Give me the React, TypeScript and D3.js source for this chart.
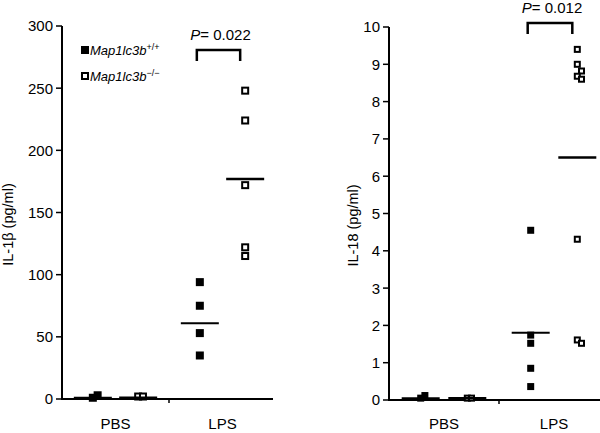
import React from 'react';
import * as d3 from 'd3';

// categories and genotypes
const categories = ['PBS', 'LPS'];
const genotypes = ['wt', 'ko'];

// IL-1beta (pg/ml), left panel
const il1bWt = [[1, 3], [94, 75, 53, 35]];
const il1bKo = [[2, 2], [248, 224, 172, 122, 115]];
const il1bMeanWt = [1, 61];
const il1bMeanKo = [1, 177];
const il1bTicks = [0, 50, 100, 150, 200, 250, 300];

// IL-18 (pg/ml), right panel
const il18Wt = [[0.05, 0.12], [4.55, 1.74, 1.52, 0.85, 0.36]];
const il18Ko = [[0.05, 0.05], [9.4, 9.0, 8.82, 8.68, 8.6, 4.31, 1.61, 1.52]];
const il18MeanWt = [0.05, 1.8];
const il18MeanKo = [0.05, 6.5];
const il18Ticks = [0, 1, 2, 3, 4, 5, 6, 7, 8, 9, 10];

const pValues = ['0.022', '0.012'];
const legendLabels = [['Map1lc3b', '+/+'], ['Map1lc3b', '\u2212/\u2212']];

const FONT = 'Liberation Sans, Arial, sans-serif';

type PanelProps = {
  x0: number;
  x1: number;
  axisEnd: number;
  y0: number;
  y1: number;
  max: number;
  ticks: number[];
  wt: number[][];
  ko: number[][];
  meanWt: number[];
  meanKo: number[];
  label: React.ReactNode;
  labelX: number;
  pText: string;
  pY: number;
  bracketTop: number;
  size: number;
};

// small dodge so overlapping squares sit side by side
function dodge(vals: number[], y: (v: number) => number, size: number) {
  const placed: { py: number; dx: number }[] = [];
  return vals.map((v) => {
    const py = y(v);
    let dx = 0;
    for (const cand of [0, size * 0.6, -size * 0.6]) {
      const hit = placed.some((p) => p.dx === cand && Math.abs(p.py - py) < size);
      if (!hit) { dx = cand; break; }
    }
    placed.push({ py, dx });
    return { v, py, dx };
  });
}

const Panel = (props: PanelProps) => {
  const y = d3.scaleLinear().domain([0, props.max]).range([props.y0, props.y1]);
  const xBand = d3.scaleBand().domain(categories).range([props.x0, props.x1]);
  const xInner = d3.scalePoint().domain(genotypes).range([0, xBand.bandwidth()]).padding(0.68);
  const s = props.size;

  const koLps = xBand('LPS')! + xInner('ko')!;
  const wtLps = xBand('LPS')! + xInner('wt')!;

  return (
    <g fontFamily={FONT}>
      {/* y axis */}
      <line x1={props.x0} x2={props.x0} y1={props.y0 + 1} y2={props.y1} stroke="#000" strokeWidth={2} />
      {props.ticks.map((t) => (
        <g key={t}>
          <line x1={props.x0 - 6} x2={props.x0} y1={y(t)} y2={y(t)} stroke="#000" strokeWidth={1.5} />
          <text x={props.x0 - 9} y={y(t)} dy="0.36em" textAnchor="end" fontSize={15}>{t}</text>
        </g>
      ))}
      {/* x axis */}
      <line x1={props.x0} x2={props.axisEnd} y1={props.y0} y2={props.y0} stroke="#000" strokeWidth={2} />
      <line x1={xBand('LPS')!} x2={xBand('LPS')!} y1={props.y0} y2={props.y0 + 4} stroke="#000" strokeWidth={1.5} />
      {categories.map((c) => (
        <text key={c} x={xBand(c)! + xBand.bandwidth() / 2} y={429} textAnchor="middle" fontSize={15}>{c}</text>
      ))}
      <text transform={`translate(${props.labelX},${(props.y0 + props.y1) / 2 + 12}) rotate(-90)`} textAnchor="middle" dy="0.35em" fontSize={14.5}>
        {props.label}
      </text>

      {/* points */}
      {categories.map((c, ci) => {
        const cxW = xBand(c)! + xInner('wt')!;
        const cxK = xBand(c)! + xInner('ko')!;
        return (
          <g key={c}>
            {dodge(props.wt[ci], y, s).map((p, i) => (
              <rect key={'w' + i} x={cxW + p.dx - s / 2} y={p.py - s / 2} width={s} height={s} fill="#000" />
            ))}
            {dodge(props.ko[ci], y, s).map((p, i) => (
              <rect key={'k' + i} x={cxK + p.dx - s / 2 + 1} y={p.py - s / 2 + 1} width={s - 2} height={s - 2} fill="#fff" stroke="#000" strokeWidth={2} />
            ))}
            <line x1={cxW - 19} x2={cxW + 19} y1={y(props.meanWt[ci])} y2={y(props.meanWt[ci])} stroke="#000" strokeWidth={2} />
            <line x1={cxK - 19} x2={cxK + 19} y1={y(props.meanKo[ci])} y2={y(props.meanKo[ci])} stroke="#000" strokeWidth={2.5} />
          </g>
        );
      })}

      {/* significance bracket */}
      <path
        d={`M${wtLps - 3},${props.bracketTop + 11} V${props.bracketTop} H${koLps - 5} V${props.bracketTop + 11}`}
        fill="none"
        stroke="#000"
        strokeWidth={2.5}
      />
      <text x={(wtLps + koLps) / 2 - 2} y={props.pY} textAnchor="middle" fontSize={15}>
        <tspan fontStyle="italic">P</tspan>= {props.pText}
      </text>
    </g>
  );
};

const App = () => {
  return (
    <svg width={600} height={433} style={{ position: 'absolute', left: 0, top: 0, background: '#fff' }}>
      <rect width={600} height={433} fill="#fff" />
      <Panel
        x0={62} x1={276} axisEnd={273} y0={399} y1={26} max={300} ticks={il1bTicks}
        wt={il1bWt} ko={il1bKo} meanWt={il1bMeanWt} meanKo={il1bMeanKo}
        label={<>IL-1β (pg/ml)</>} labelX={8}
        pText={pValues[0]} pY={40} bracketTop={50} size={8}
      />
      <Panel
        x0={389} x1={609} axisEnd={600} y0={400} y1={27} max={10} ticks={il18Ticks}
        wt={il18Wt} ko={il18Ko} meanWt={il18MeanWt} meanKo={il18MeanKo}
        label={<>IL-18 (pg/ml)</>} labelX={353}
        pText={pValues[1]} pY={13} bracketTop={23} size={7}
      />
      {/* legend */}
      {legendLabels.map((l, i) => (
        <g key={i} fontFamily={FONT}>
          {i === 0 ? (
            <rect x={81} y={46 + i * 26} width={8} height={8} fill="#000" />
          ) : (
            <rect x={82} y={47 + i * 26} width={6} height={6} fill="#fff" stroke="#000" strokeWidth={2} />
          )}
          <text x={90} y={55 + i * 26} fontSize={13} fontStyle="italic">
            {l[0]}
            <tspan fontSize={9} dy={-5} fontStyle="normal">{l[1]}</tspan>
          </text>
        </g>
      ))}
    </svg>
  );
};

export default App;
